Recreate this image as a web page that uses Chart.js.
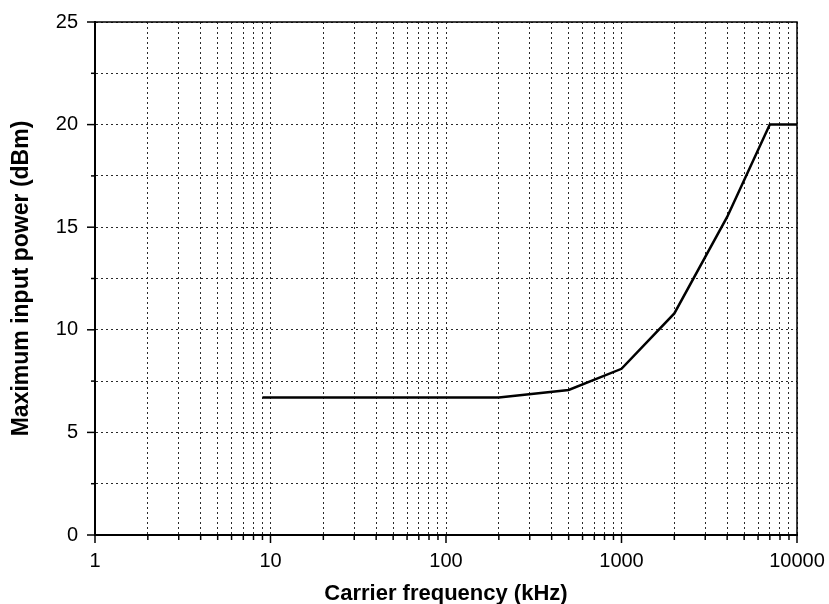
<!DOCTYPE html>
<html>
<head>
<meta charset="utf-8">
<script src="https://cdn.jsdelivr.net/npm/chart.js@4"></script>
<style>
  html, body { margin: 0; padding: 0; background: #fff; }
  #wrap { width: 829px; height: 604px; }
</style>
</head>
<body>
<div id="wrap"><canvas id="myChart"></canvas></div>
<script>
// data
const freqKHz = [9, 200, 500, 1000, 2000, 4000, 7000, 10000];
const powerDbm = [6.7, 6.7, 7.07, 8.1, 10.8, 15.5, 20, 20];

const xDecades = [1, 10, 100, 1000, 10000];
const yMajor = [0, 5, 10, 15, 20, 25];

// 1..9 in every decade, then the last decade
const xTicks = [];
for (let d = 0; d < xDecades.length - 1; d++) {
  for (let m = 1; m <= 9; m++) xTicks.push(m * xDecades[d]);
}
xTicks.push(xDecades[xDecades.length - 1]);

const fontFamily = "'Liberation Sans', Arial, sans-serif";

// frame + tick marks (major longer than minor)
const framePlugin = {
  id: "frame",
  afterDraw(chart) {
    const { ctx, chartArea: a, scales } = chart;
    ctx.save();
    ctx.strokeStyle = "#000";
    ctx.lineWidth = 1.5;
    ctx.strokeRect(a.left, a.top, a.right - a.left, a.bottom - a.top);

    scales.x.ticks.forEach((t) => {
      const px = scales.x.getPixelForValue(t.value);
      const len = xDecades.includes(t.value) ? 8 : 5;
      ctx.beginPath();
      ctx.moveTo(px, a.bottom);
      ctx.lineTo(px, a.bottom + len);
      ctx.stroke();
    });
    scales.y.ticks.forEach((t) => {
      const py = scales.y.getPixelForValue(t.value);
      const len = yMajor.includes(t.value) ? 8 : 4;
      ctx.beginPath();
      ctx.moveTo(a.left, py);
      ctx.lineTo(a.left - len, py);
      ctx.stroke();
    });
    ctx.restore();
  },
};

const data = {
  datasets: [
    {
      label: "Maximum input power",
      data: freqKHz.map((f, i) => ({ x: f, y: powerDbm[i] })),
      borderColor: "#000",
      borderWidth: 2.5,
      pointRadius: 0,
      tension: 0,
      fill: false,
    },
  ],
};

const config = {
  type: "line",
  data: data,
  options: {
    responsive: true,
    maintainAspectRatio: false,
    animation: false,
    layout: { padding: { top: 22, right: 32, left: 0, bottom: 0 } },
    plugins: {
      legend: { display: false },
      tooltip: { enabled: false },
    },
    scales: {
      x: {
        type: "logarithmic",
        min: 1,
        max: 10000,
        afterBuildTicks: (scale) => {
          scale.ticks = xTicks.map((v) => ({ value: v }));
        },
        afterFit: (scale) => {
          scale.height = 69;
          // labels may overhang, don't let them shrink the plot
          scale.paddingLeft = 0;
          scale.paddingRight = 0;
        },
        grid: {
          color: "#2a2a2a",
          lineWidth: 1,
          drawTicks: false,
        },
        border: { display: true, color: "#000", width: 2, dash: [2, 3] },
        ticks: {
          autoSkip: false,
          maxRotation: 0,
          padding: 14,
          color: "#000",
          font: { family: fontFamily, size: 20 },
          callback: (v) => (xDecades.includes(v) ? String(v) : ""),
        },
        title: {
          display: true,
          text: "Carrier frequency (kHz)",
          color: "#000",
          font: { family: fontFamily, size: 22, weight: "bold" },
          padding: { top: 11, bottom: -3 },
        },
      },
      y: {
        min: 0,
        max: 25,
        afterBuildTicks: (scale) => {
          const t = [];
          for (let v = 0; v <= 25; v += 2.5) t.push({ value: v });
          scale.ticks = t;
        },
        afterFit: (scale) => {
          scale.width = 95;
          scale.paddingTop = 0;
          scale.paddingBottom = 0;
        },
        grid: {
          color: "#2a2a2a",
          lineWidth: 1,
          drawTicks: false,
        },
        border: { display: true, color: "#000", width: 2, dash: [2, 3] },
        ticks: {
          autoSkip: false,
          padding: 17,
          color: "#000",
          font: { family: fontFamily, size: 20 },
          callback: (v) => (yMajor.includes(v) ? String(v) : ""),
        },
        title: {
          display: true,
          text: "Maximum input power (dBm)",
          color: "#000",
          font: { family: fontFamily, size: 23, weight: "bold" },
          padding: { top: 8, bottom: 0 },
        },
      },
    },
  },
  plugins: [framePlugin],
};

const myChart = new Chart(document.getElementById("myChart"), config);
</script>
</body>
</html>
